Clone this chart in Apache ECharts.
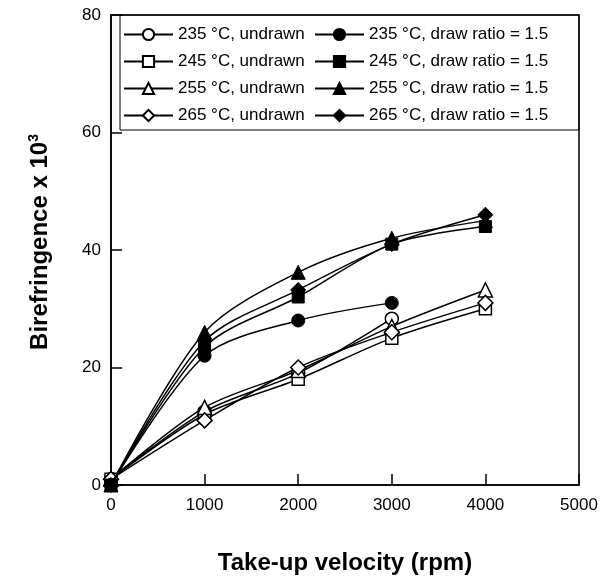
<!DOCTYPE html>
<html>
<head>
<meta charset="utf-8">
<script src="https://cdn.jsdelivr.net/npm/echarts@6/dist/echarts.min.js"></script>
<style>html,body{margin:0;padding:0;background:#fff;}#c{width:611px;height:578px;}</style>
</head>
<body>
<div id="c"></div>
<script>
// Take-up velocity (rpm)
const velocities = [0, 1000, 2000, 3000, 4000];
const xTicks = [0, 1000, 2000, 3000, 4000, 5000];
const yTicks = [0, 20, 40, 60, 80];

// Birefringence x 10^3
const undrawn235 = [1, 12.5, 19, 28.3];
const undrawn245 = [1, 12, 18, 25, 30];
const undrawn255 = [1, 13.2, 19.5, 27, 33.2];
const undrawn265 = [1, 11, 20, 26, 31];
const drawn235 = [0, 22, 28, 31];
const drawn245 = [0, 23.5, 32, 41, 44];
const drawn255 = [0, 26, 36.2, 42, 45];
const drawn265 = [0, 24.5, 33.2, 41, 46];

const undrawnNames = ['235 °C, undrawn', '245 °C, undrawn', '255 °C, undrawn', '265 °C, undrawn'];
const drawnNames = ['235 °C, draw ratio = 1.5', '245 °C, draw ratio = 1.5', '255 °C, draw ratio = 1.5', '265 °C, draw ratio = 1.5'];
const symbols = ['circle', 'rect', 'triangle', 'diamond'];
const symbolSizes = [13, 12, 14, 15];

function pairs(vals) { return vals.map((v, i) => [velocities[i], v]); }

const undrawnData = [undrawn235, undrawn245, undrawn255, undrawn265];
const drawnData = [drawn235, drawn245, drawn255, drawn265];

const series = [];
for (let i = 0; i < 4; i++) {
  series.push({
    name: undrawnNames[i], type: 'line', data: pairs(undrawnData[i]), smooth: 0.3,
    symbol: symbols[i], symbolSize: symbolSizes[i],
    lineStyle: { color: '#000', width: 1.5 },
    itemStyle: { color: '#fff', borderColor: '#000', borderWidth: 1.5 },
    z: 3
  });
}
for (let i = 0; i < 4; i++) {
  series.push({
    name: drawnNames[i], type: 'line', data: pairs(drawnData[i]), smooth: 0.3,
    symbol: symbols[i], symbolSize: symbolSizes[i],
    lineStyle: { color: '#000', width: 1.5 },
    itemStyle: { color: '#000', borderColor: '#000', borderWidth: 1 },
    z: 4
  });
}

const legendText = { fontFamily: 'Liberation Sans, Arial, sans-serif', fontSize: 17, color: '#000' };
const chart = echarts.init(document.getElementById('c'), null, { renderer: 'canvas' });
chart.setOption({
  animation: false,
  backgroundColor: '#fff',
  grid: { left: 111, top: 15, right: 32, bottom: 93, outerBoundsMode: 'none', containLabel: false, show: true, borderColor: '#000', borderWidth: 1.5, backgroundColor: 'transparent' },
  legend: [
    { data: undrawnNames, orient: 'vertical', left: 123, top: 26, padding: 0, itemWidth: 49, itemHeight: 14, itemGap: 10, textStyle: legendText, selectedMode: false },
    { data: drawnNames, orient: 'vertical', left: 314, top: 26, padding: 0, itemWidth: 49, itemHeight: 14, itemGap: 10, textStyle: legendText, selectedMode: false }
  ],
  graphic: [
    { type: 'rect', shape: { x: 120, y: 15, width: 459, height: 115 }, style: { fill: 'none', stroke: '#000', lineWidth: 1 }, z: 10 }
  ],
  xAxis: {
    type: 'value', min: xTicks[0], max: xTicks[xTicks.length - 1], interval: 1000,
    name: 'Take-up velocity (rpm)', nameLocation: 'middle', nameGap: 66,
    nameTextStyle: { fontFamily: 'Liberation Sans, Arial, sans-serif', fontSize: 24, fontWeight: 'bold', color: '#000' },
    axisLine: { lineStyle: { color: '#000', width: 1.5 } },
    axisTick: { inside: true, length: 11, lineStyle: { color: '#000', width: 1.5 } },
    axisLabel: { fontFamily: 'Liberation Sans, Arial, sans-serif', fontSize: 17, color: '#000', margin: 12, formatter: v => String(v) },
    splitLine: { show: false }
  },
  yAxis: {
    type: 'value', min: yTicks[0], max: yTicks[yTicks.length - 1], interval: 20,
    name: 'Birefringence x 10{sup|3}', nameLocation: 'middle', nameGap: 58,
    nameTextStyle: { fontFamily: 'Liberation Sans, Arial, sans-serif', fontSize: 24, fontWeight: 'bold', color: '#000', padding: [0, 0, 0, 16],
      rich: { sup: { fontFamily: 'Liberation Sans, Arial, sans-serif', fontSize: 14, fontWeight: 'bold', color: '#000', verticalAlign: 'top', padding: [0, 0, 12, 0] } } },
    axisLine: { lineStyle: { color: '#000', width: 1.5 } },
    axisTick: { inside: true, length: 11, lineStyle: { color: '#000', width: 1.5 } },
    axisLabel: { fontFamily: 'Liberation Sans, Arial, sans-serif', fontSize: 17, color: '#000', margin: 10, formatter: v => String(v) },
    splitLine: { show: false }
  },
  series: series
});
</script>
</body>
</html>
